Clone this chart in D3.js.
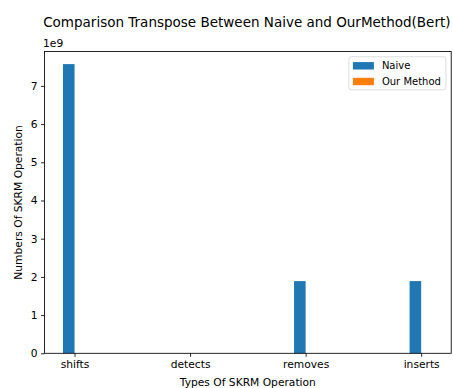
<!DOCTYPE html>
<html>
<head>
<meta charset="utf-8">
<script src="https://cdn.jsdelivr.net/npm/d3@7"></script>
<style>
  html, body { margin: 0; padding: 0; background: #fff; }
  svg { display: block; font-family: "DejaVu Sans", sans-serif; }
</style>
</head>
<body>
<svg id="chart" width="453" height="388"></svg>
<script>
// Operation counts per SKRM operation type
const categories = ["shifts", "detects", "removes", "inserts"];
const naiveValues = [7.57e9, 0, 1.89e9, 1.89e9];
const ourMethodValues = [0, 0, 0, 0];
const yTickValues = [0, 1, 2, 3, 4, 5, 6, 7];
const seriesNames = ["Naive", "Our Method"];
const seriesColors = ["#1f77b4", "#ff7f0e"];

const svg = d3.select("#chart");
const plot = { left: 44.5, right: 451.2, top: 51.5, bottom: 353.3 };
const barWidth = 0.1;
const tickFont = 10.7;

// x in category-index units, y in units of 1e9
const x = d3.scaleLinear().domain([-0.26, 3.26]).range([plot.left, plot.right]);
const y = d3.scaleLinear().domain([0, 7.90]).range([plot.bottom, plot.top]);

// bars: Naive left of each tick, Our Method right of it
const series = [naiveValues, ourMethodValues];
series.forEach((vals, si) => {
  svg.append("g").selectAll("rect")
    .data(vals)
    .join("rect")
    .attr("x", (d, i) => x(i - barWidth + si * barWidth))
    .attr("width", (d, i) => x(barWidth) - x(0))
    .attr("y", d => y(d / 1e9))
    .attr("height", d => y(0) - y(d / 1e9))
    .attr("fill", seriesColors[si]);
});

// axes
const xAxis = d3.axisBottom(x)
  .tickValues(d3.range(categories.length))
  .tickFormat(i => categories[i])
  .tickSizeInner(3.5).tickSizeOuter(0).tickPadding(3.5);
const gx = svg.append("g").attr("transform", `translate(0,${plot.bottom})`).call(xAxis);

const yAxis = d3.axisLeft(y)
  .tickValues(yTickValues)
  .tickFormat(d3.format("d"))
  .tickSizeInner(3.5).tickSizeOuter(0).tickPadding(3.5);
const gy = svg.append("g").attr("transform", `translate(${plot.left},0)`).call(yAxis);

[gx, gy].forEach(g => {
  g.select(".domain").remove();
  g.selectAll("line").attr("stroke", "#000").attr("stroke-width", 0.85);
  g.selectAll("text").attr("font-size", tickFont).attr("fill", "#000")
    .attr("font-family", "DejaVu Sans, sans-serif");
});

// frame
svg.append("rect")
  .attr("x", plot.left).attr("y", plot.top)
  .attr("width", plot.right - plot.left).attr("height", plot.bottom - plot.top)
  .attr("fill", "none").attr("stroke", "#000").attr("stroke-width", 0.85);

// offset text for the y axis
svg.append("text").attr("x", plot.left - 1.5).attr("y", 47)
  .attr("font-size", tickFont).text("1e9");

// title and axis labels
svg.append("text").attr("x", (plot.left + plot.right) / 2 - 1).attr("y", 26.5)
  .attr("text-anchor", "middle").attr("font-size", 13.5)
  .text("Comparison Transpose Between Naive and OurMethod(Bert)");

svg.append("text").attr("x", (plot.left + plot.right) / 2).attr("y", 385.5)
  .attr("text-anchor", "middle").attr("font-size", tickFont)
  .text("Types Of SKRM Operation");

svg.append("text")
  .attr("transform", `translate(22,${(plot.top + plot.bottom) / 2}) rotate(-90)`)
  .attr("text-anchor", "middle").attr("font-size", tickFont)
  .text("Numbers Of SKRM Operation");

// legend, upper right
const lg = svg.append("g");
const lgW = 97, lgH = 33;
const lgX = plot.right - 5.3 - lgW, lgY = plot.top + 5.3;
lg.append("rect").attr("x", lgX).attr("y", lgY).attr("width", lgW).attr("height", lgH)
  .attr("rx", 2.5).attr("fill", "#fff").attr("fill-opacity", 0.8)
  .attr("stroke", "#d6d6d6").attr("stroke-width", 0.85);
seriesNames.forEach((name, i) => {
  const cy = lgY + 9 + i * 15.7;
  lg.append("rect").attr("x", lgX + 4).attr("y", cy - 3.7)
    .attr("width", 21).attr("height", 7.4).attr("fill", seriesColors[i]);
  lg.append("text").attr("x", lgX + 33).attr("y", cy + 3.6)
    .attr("font-size", 10).text(name);
});
</script>
</body>
</html>
